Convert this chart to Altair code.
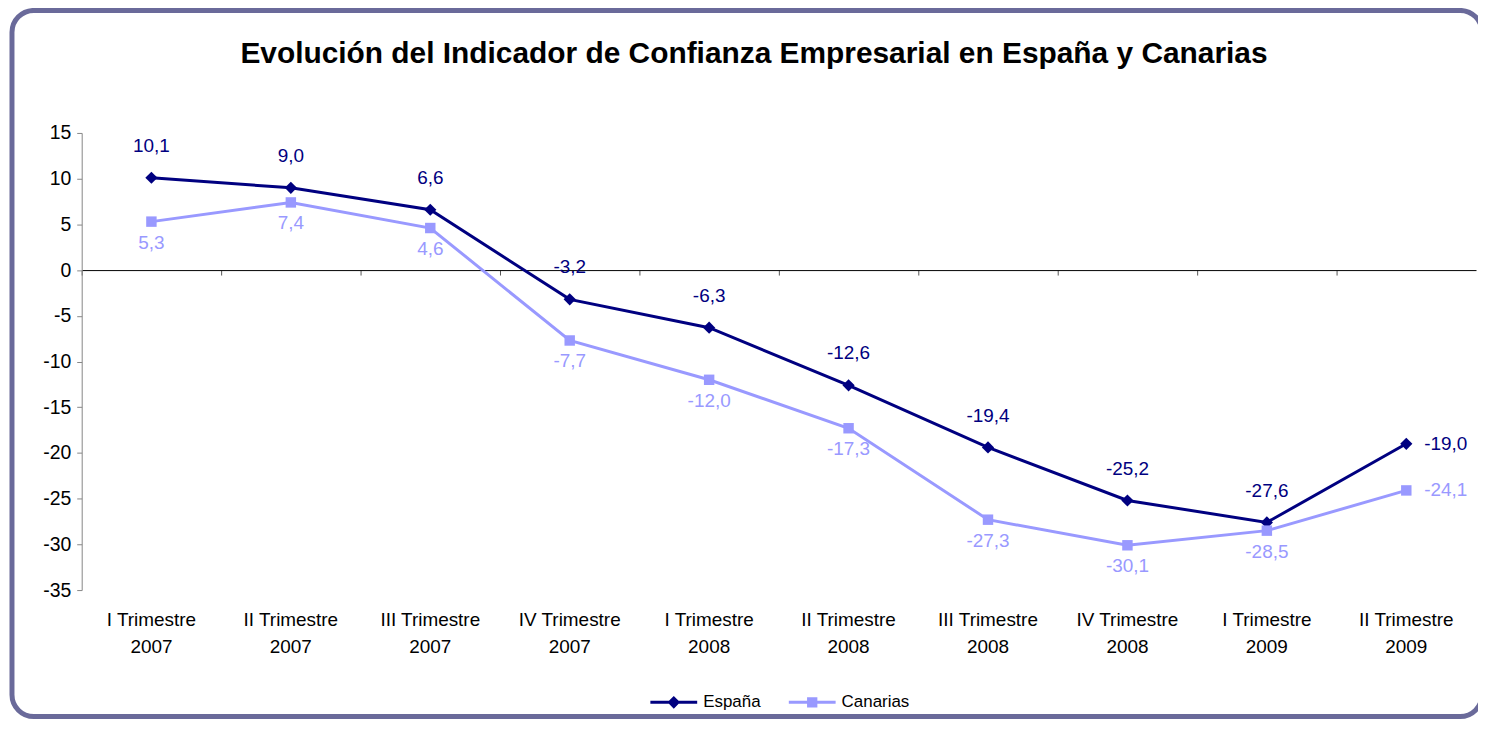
import altair as alt
import pandas as pd

categorias = ["I Trimestre 2007", "II Trimestre 2007", "III Trimestre 2007", "IV Trimestre 2007",
              "I Trimestre 2008", "II Trimestre 2008", "III Trimestre 2008", "IV Trimestre 2008",
              "I Trimestre 2009", "II Trimestre 2009"]
espana = [10.1, 9.0, 6.6, -3.2, -6.3, -12.6, -19.4, -25.2, -27.6, -19.0]
canarias = [5.3, 7.4, 4.6, -7.7, -12.0, -17.3, -27.3, -30.1, -28.5, -24.1]
series = ["España", "Canarias"]
y_ticks = list(range(-35, 20, 5))
titulo = "Evolución del Indicador de Confianza Empresarial en España y Canarias"

rows = []
for s, vals in zip(series, [espana, canarias]):
    for c, v in zip(categorias, vals):
        rows.append({"trimestre": c, "serie": s, "valor": v})
df = pd.DataFrame(rows)

FONT = "Liberation Sans"
C_ESP = "#000080"
C_CAN = "#9999ff"
last_cat = categorias[-1]

xscale = alt.Scale(type="band", paddingInner=0, paddingOuter=0)
yscale = alt.Scale(domain=[-35, 15], nice=False, zero=False)
yaxis = alt.Axis(values=y_ticks, title=None, grid=False, domainColor="#868686", tickColor="#868686",
                 tickSize=5, labelFontSize=19.5, labelFont=FONT, labelColor="black", labelPadding=6,
                 labelExpr="'' + datum.value")

def X(axis=None):
    return alt.X("trimestre:N", sort=categorias, scale=xscale, axis=axis)

def Y():
    return alt.Y("valor:Q", scale=yscale, axis=yaxis)

base = alt.Chart(df).transform_calculate(
    etiqueta="replace(replace(format(datum.valor, '.1f'), '.', ','), '\u2212', '-')"
)

zero_axis = alt.Axis(orient="bottom", offset=-321.3, labels=False, title=None, domainColor="black",
                     domainWidth=1, ticks=True, tickColor="#555555", tickSize=5, bandPosition=0, grid=False)
label_axis = alt.Axis(orient="bottom", domain=False, ticks=False, title=None, labelFontSize=19,
                      labelFont=FONT, labelColor="black", labelPadding=21, labelLineHeight=27, labelAngle=0,
                      labelExpr="[substring(datum.value, 0, lastindexof(datum.value, ' ')), "
                                "substring(datum.value, lastindexof(datum.value, ' ') + 1)]")

frame = alt.Chart(alt.Data(values=[{}])).mark_rect(
    filled=False, stroke="#6a6a9a", strokeWidth=5, cornerRadius=22, clip=False
).encode(x=alt.value(-70), x2=alt.value(1406), y=alt.value(-123), y2=alt.value(586))

layers = [frame]
cols = {"España": C_ESP, "Canarias": C_CAN}
shapes = {"España": "diamond", "Canarias": "square"}
sizes = {"España": 150, "Canarias": 110}
for i, s in enumerate(series):
    sub = base.transform_filter(alt.datum.serie == s)
    line = sub.mark_line(color=cols[s], strokeWidth=3).encode(
        x=X(zero_axis if i == 0 else None), y=Y())
    pts = sub.mark_point(filled=True, opacity=1, color=cols[s], shape=shapes[s], size=sizes[s]).encode(
        x=X(label_axis if i == 0 else None), y=Y())
    dy = -32 if s == "España" else 21
    txt = sub.transform_filter(alt.datum.trimestre != last_cat).mark_text(
        color=cols[s], fontSize=19, font=FONT, dy=dy, align="center", baseline="middle"
    ).encode(x=X(), y=Y(), text="etiqueta:N")
    txt_last = sub.transform_filter(alt.datum.trimestre == last_cat).mark_text(
        color=cols[s], fontSize=19, font=FONT, dx=18, align="left", baseline="middle"
    ).encode(x=X(), y=Y(), text="etiqueta:N")
    layers += [line, pts, txt, txt_last]

legend = alt.Legend(title=None, orient="none", legendX=571, legendY=548, direction="horizontal",
                    symbolSize=2209, symbolStrokeWidth=0, symbolOpacity=1, labelFontSize=17,
                    labelFont=FONT, labelColor="black", labelOffset=6, columnPadding=28)
sym_esp = "M-1,-0.064H1V0.064H-1ZM0,-0.27L0.27,0L0,0.27L-0.27,0Z"
sym_can = "M-1,-0.064H1V0.064H-1ZM-0.22,-0.22H0.22V0.22H-0.22Z"
hidden = base.mark_point(filled=True).encode(
    x=X(), y=Y(),
    color=alt.Color("serie:N", sort=series, scale=alt.Scale(domain=series, range=[C_ESP, C_CAN]), legend=legend),
    shape=alt.Shape("serie:N", sort=series, scale=alt.Scale(domain=series, range=[sym_esp, sym_can]), legend=legend),
    opacity=alt.value(0),
)
layers.append(hidden)

chart = alt.layer(*layers).resolve_axis(x="independent").properties(
    width=1400, height=459,
    padding={"left": 74, "top": 124, "right": 2, "bottom": 129},
    autosize=alt.AutoSizeParams(type="none"),
    title=alt.TitleParams(titulo, fontSize=30, font=FONT, fontWeight="bold", color="black",
                          anchor="middle", frame="group", dx=-25, offset=-61),
).configure(background="white", view=alt.ViewConfig(stroke=None))

chart.save("out.html", embed_options={"renderer": "svg", "actions": False})
